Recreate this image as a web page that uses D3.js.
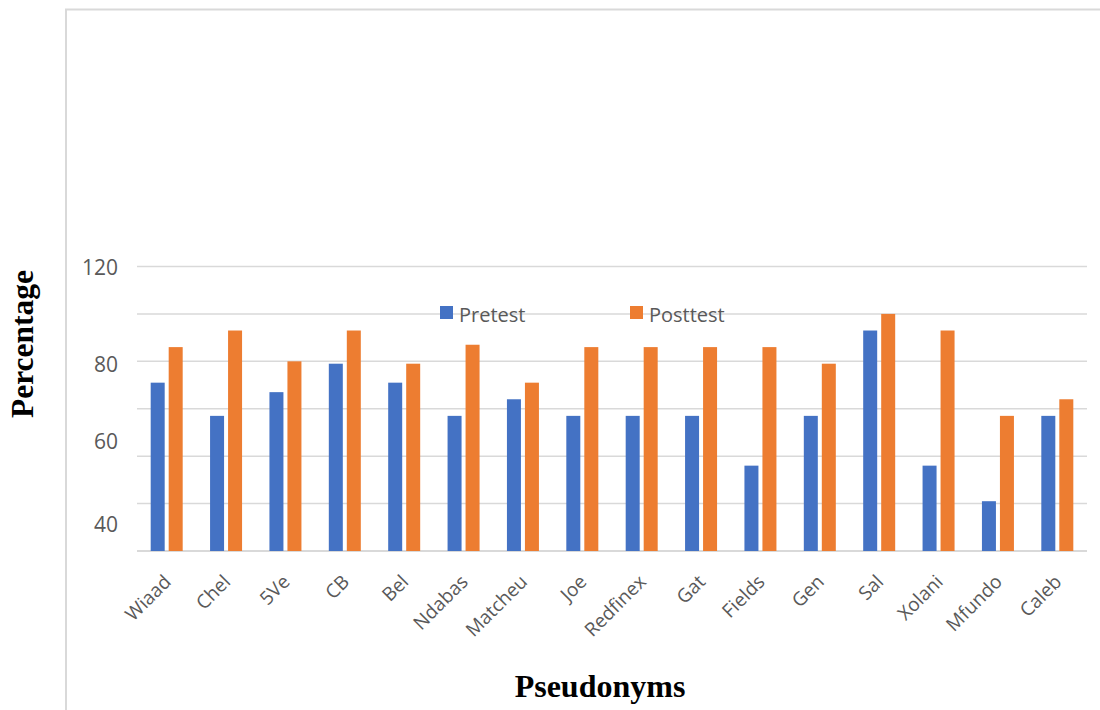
<!DOCTYPE html>
<html>
<head>
<meta charset="utf-8">
<script src="https://cdn.jsdelivr.net/npm/d3@7"></script>
<style>
  html, body { margin: 0; padding: 0; background: #fff; }
  svg { display: block; }
</style>
</head>
<body>
<script>
const categories = ["Wiaad","Chel","5Ve","CB","Bel","Ndabas","Matcheu","Joe","Redfinex","Gat","Fields","Gen","Sal","Xolani","Mfundo","Caleb"];
const seriesNames = ["Pretest", "Posttest"];
const pretest  = [71, 57, 67, 79, 71, 57, 64, 57, 57, 57, 36, 57, 93, 36, 21, 57];
const posttest = [86, 93, 80, 93, 79, 87, 71, 86, 86, 86, 86, 79, 100, 93, 57, 64];
const gridValues = [0, 20, 40, 60, 80, 100, 120];
const yTickLabels = ["120", "80", "60", "40"];
const yTickAt = [119.8, 78.9, 46.4, 11.4];
const colors = ["#4472C4", "#ED7D31"];

const W = 1100, H = 710;
const svg = d3.select("body").append("svg").attr("width", W).attr("height", H);

// chart frame
svg.append("rect")
  .attr("x", 66).attr("y", 9.5).attr("width", 1100).attr("height", 800)
  .attr("fill", "none").attr("stroke", "#d9d9d9").attr("stroke-width", 2);

const x0 = d3.scaleBand().domain(categories).range([137, 1087]);
const x1 = d3.scaleBand().domain(seriesNames).range([-16, 16]).paddingInner(4/18);
const y = d3.scaleLinear().domain([0, 120]).range([551, 266.5]);

// gridlines
svg.append("g").selectAll("line").data(gridValues).join("line")
  .attr("x1", 137).attr("x2", 1087)
  .attr("y1", d => y(d)).attr("y2", d => y(d))
  .attr("stroke", "#d9d9d9").attr("stroke-width", d => d === 0 ? 2 : 1.5);

// y tick labels
svg.append("g").selectAll("text").data(yTickLabels).join("text")
  .attr("x", 118).attr("y", (d, i) => y(yTickAt[i]))
  .attr("dy", "0.36em")
  .attr("text-anchor", "end")
  .attr("font-family", "'Open Sans', sans-serif")
  .attr("font-size", 21)
  .attr("fill", "#595959")
  .text(d => d);

// bars
const data = categories.map((c, i) => ({ c, vals: [pretest[i], posttest[i]] }));
const groups = svg.append("g").selectAll("g").data(data).join("g")
  .attr("transform", d => `translate(${x0(d.c) + x0.bandwidth() / 2},0)`);
groups.selectAll("rect").data(d => d.vals.map((v, k) => ({ k, v }))).join("rect")
  .attr("x", d => x1(seriesNames[d.k]))
  .attr("width", x1.bandwidth())
  .attr("y", d => y(d.v))
  .attr("height", d => y(0) - y(d.v))
  .attr("fill", d => colors[d.k]);

// category labels
svg.append("g").selectAll("text").data(categories).join("text")
  .attr("transform", d => `translate(${x0(d) + x0.bandwidth() / 2 + 5.5},${583}) rotate(-45)`)
  .attr("text-anchor", "end")
  .attr("font-family", "'Open Sans', sans-serif")
  .attr("font-size", 19)
  .attr("fill", "#595959")
  .text(d => d);

// legend
const legendX = [440, 630];
const lg = svg.append("g").selectAll("g").data(seriesNames).join("g")
  .attr("transform", (d, i) => `translate(${legendX[i]},306)`);
lg.append("rect").attr("width", 13).attr("height", 13).attr("fill", (d, i) => colors[i]);
lg.append("text").attr("x", 19).attr("y", 15.5)
  .attr("font-family", "'Open Sans', sans-serif")
  .attr("font-size", 20)
  .attr("fill", "#595959")
  .text(d => d);

// axis titles
svg.append("text")
  .attr("x", 600).attr("y", 697)
  .attr("text-anchor", "middle")
  .attr("font-family", "'Liberation Serif', 'Times New Roman', serif")
  .attr("font-weight", "bold").attr("font-size", 32)
  .attr("fill", "#000")
  .text("Pseudonyms");

svg.append("text")
  .attr("transform", "translate(33,344) rotate(-90)")
  .attr("text-anchor", "middle")
  .attr("font-family", "'Liberation Serif', 'Times New Roman', serif")
  .attr("font-weight", "bold").attr("font-size", 31.5)
  .attr("fill", "#000")
  .text("Percentage");
</script>
</body>
</html>
